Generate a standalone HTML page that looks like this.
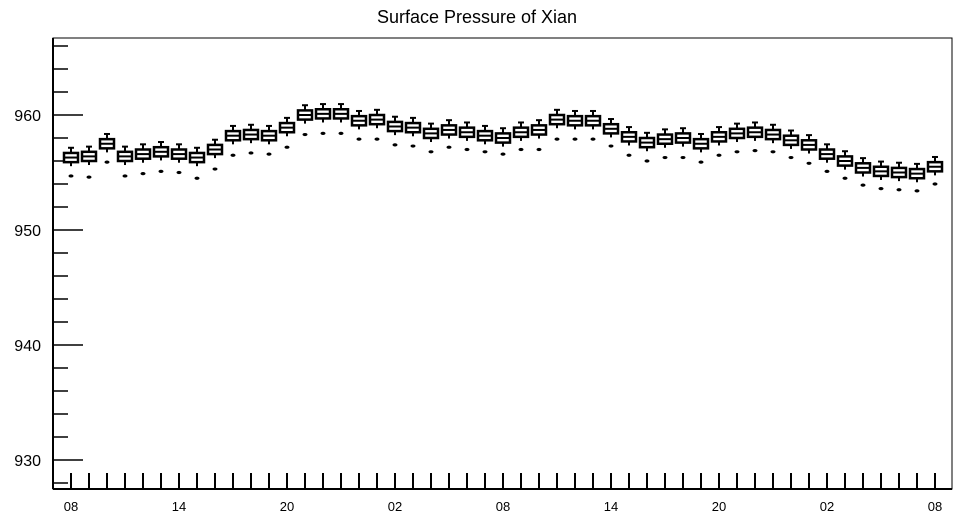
<!DOCTYPE html>
<html><head><meta charset="utf-8"><style>
body{margin:0;background:#fff;}
svg text{font-family:"Liberation Sans",sans-serif;}
</style></head><body>
<svg id="chart" width="958" height="518" xmlns="http://www.w3.org/2000/svg">
<text x="477" y="23" text-anchor="middle" font-size="18">Surface Pressure of Xian</text>
<g id="axes"></g>
<g id="boxes"></g>
</svg>
<script>
const medians=[956.3,956.4,957.5,956.4,956.6,956.8,956.6,956.3,957.0,958.2,958.3,958.2,958.9,960.0,960.1,960.1,959.5,959.6,959.0,958.9,958.4,958.7,958.5,958.2,958.0,958.5,958.7,959.6,959.5,959.5,958.8,958.1,957.6,957.9,958.0,957.5,958.1,958.4,958.5,958.3,957.8,957.4,956.6,956.0,955.4,955.1,955.0,954.9,955.5];
const outliers=[954.7,954.6,955.9,954.7,954.9,955.1,955.0,954.5,955.3,956.5,956.7,956.6,957.2,958.3,958.4,958.4,957.9,957.9,957.4,957.3,956.8,957.2,957.0,956.8,956.6,957.0,957.0,957.9,957.9,957.9,957.3,956.5,956.0,956.3,956.3,955.9,956.5,956.8,956.9,956.8,956.3,955.8,955.1,954.5,953.9,953.6,953.5,953.4,954.0];
const yTicks=[930,940,950,960];
const xLabels=["08","14","20","02","08","14","20","02","08"];
const NS="http://www.w3.org/2000/svg";
const L=53,R=952,T=38,B=489;
const y=v=>115+(960-v)*11.5;
const x=i=>71+i*18;
function mk(tag,attrs,parent){const e=document.createElementNS(NS,tag);for(const k in attrs)e.setAttribute(k,attrs[k]);parent.appendChild(e);return e;}
const ax=document.getElementById('axes'),bx=document.getElementById('boxes');
const frame=mk('rect',{x:L,y:T,width:R-L,height:B-T,fill:'none',stroke:'#000','stroke-width':1},ax);


mk('line',{x1:L,y1:T,x2:L,y2:B,stroke:'#000','stroke-width':2},ax);
mk('line',{x1:L,y1:B,x2:R,y2:B,stroke:'#000','stroke-width':2},ax);
for(let v=928;v<=966;v+=2){const yy=y(v);if(yy<T||yy>B)continue;const major=v%10===0;
 const t=mk('line',{x1:L,y1:yy,x2:L+(major?30:15),y2:yy,stroke:'#000','stroke-width':1.5},ax);
 
 }
yTicks.forEach(v=>{const t=mk('text',{x:41,y:y(v)+6,'text-anchor':'end','font-size':16},ax);t.textContent=v;
 
 });
for(let i=0;i<medians.length;i++){const t=mk('line',{x1:x(i),y1:B,x2:x(i),y2:B-16,stroke:'#000','stroke-width':2},ax);
 
 }
xLabels.forEach((s,j)=>{const t=mk('text',{x:x(j*6),y:511,'text-anchor':'middle','font-size':13},ax);t.textContent=s;
 
 });
medians.forEach((m,i)=>{const g=mk('g',{},bx);
 
 
 const cx=x(i),ym=y(m);
 mk('line',{x1:cx,y1:y(m+0.85),x2:cx,y2:y(m-0.75),stroke:'#000','stroke-width':2},g);
 mk('line',{x1:cx-3,y1:y(m+0.85),x2:cx+3,y2:y(m+0.85),stroke:'#000','stroke-width':2},g);
 mk('rect',{x:cx-7,y:y(m+0.4),width:14,height:y(m-0.4)-y(m+0.4),fill:'#fff',stroke:'#000','stroke-width':2.5},g);
 mk('line',{x1:cx-7,y1:ym,x2:cx+7,y2:ym,stroke:'#000','stroke-width':2},g);
 mk('ellipse',{cx:cx,cy:y(outliers[i]),rx:2.5,ry:1.6,fill:'#000'},g);
});
</script>
</body></html>
